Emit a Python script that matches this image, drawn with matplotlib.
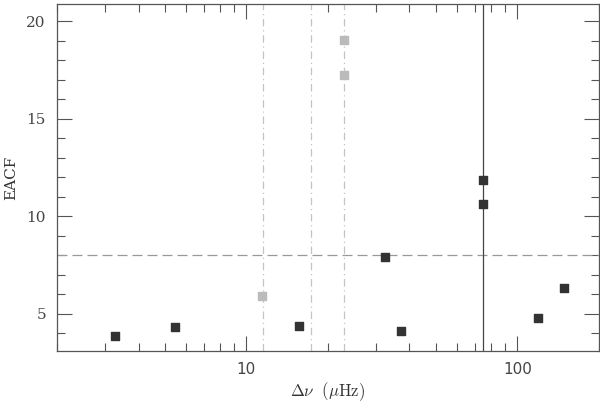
import matplotlib
matplotlib.use("Agg")
import matplotlib.pyplot as plt
from matplotlib.ticker import FixedLocator, LogLocator, NullFormatter, MultipleLocator

plt.rcParams['mathtext.fontset'] = 'cm'

# detections above threshold / below threshold (dark) and rejected (light)
dark_dnu = [3.28, 5.47, 15.6, 32.5, 37.1, 74.6, 74.6, 119.3, 148.3]
dark_eacf = [3.87, 4.35, 4.40, 7.93, 4.14, 11.87, 10.62, 4.78, 6.34]
grey_dnu = [11.42, 23.0, 23.0]
grey_eacf = [5.92, 19.06, 17.26]

threshold = 8.0
dashdot_dnu = [11.5, 17.3, 23.0]
solid_dnu = 74.6

fig = plt.figure(figsize=(6, 4.05), dpi=100)
ax = fig.add_axes([0.095, 0.1333, 0.903, 0.857])

ax.axhline(threshold, color='#999999', ls=(0, (8, 4)), lw=0.9)
for xv in dashdot_dnu:
    ax.axvline(xv, color='#c4c4c4', ls=(0, (6, 3, 1, 3)), lw=0.9)
ax.axvline(solid_dnu, color='#444444', lw=0.9)

ax.scatter(grey_dnu, grey_eacf, marker='s', s=28, color='#bbbbbb', zorder=3)
ax.scatter(dark_dnu, dark_eacf, marker='s', s=28, color='#333333', zorder=3)

ax.set_xscale('log')
ax.set_xlim(2, 200)
ax.set_ylim(3.1, 20.9)

ax.xaxis.set_major_locator(FixedLocator([10, 100]))
ax.xaxis.set_minor_locator(LogLocator(base=10, subs=range(2, 10)))
ax.xaxis.set_minor_formatter(NullFormatter())
ax.set_xticklabels(['10', '100'], fontsize=11, family='DejaVu Sans', color='#444444')
ax.yaxis.set_major_locator(FixedLocator([5, 10, 15, 20]))
ax.yaxis.set_minor_locator(MultipleLocator(1))
for lab in ax.get_yticklabels():
    lab.set_fontfamily('DejaVu Serif')
    lab.set_fontsize(11)
    lab.set_color('#444444')

ax.tick_params(which='both', direction='in', top=True, right=True, color='#555555')
ax.tick_params(which='major', length=11, width=0.8, pad=8)
ax.tick_params(which='minor', length=6, width=0.8)
for sp in ax.spines.values():
    sp.set_color('#555555')
    sp.set_linewidth(0.9)

ax.set_xlabel(r'$\Delta\nu\ \ (\mu\mathrm{Hz})$', fontsize=12, color='#333333', labelpad=2)
ax.set_ylabel('EACF', fontsize=11, family='DejaVu Serif', color='#333333', labelpad=6)

fig.savefig('out.png', dpi=100)
